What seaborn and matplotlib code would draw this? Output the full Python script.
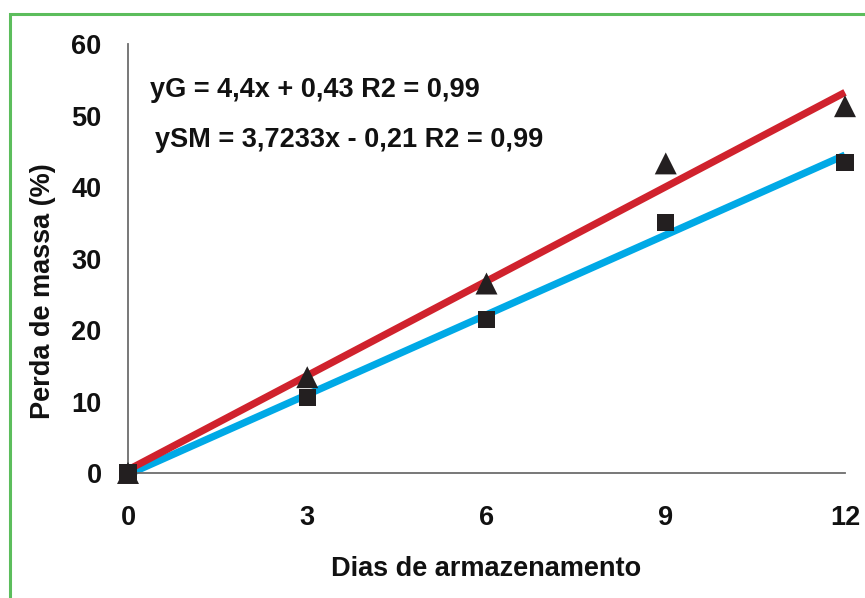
import matplotlib
matplotlib.use("Agg")
import matplotlib.pyplot as plt
from matplotlib.patches import Rectangle
import seaborn as sns
import pandas as pd
import numpy as np

sns.set_theme(style="white")
plt.rcParams["font.family"] = ["Liberation Sans", "DejaVu Sans"]
plt.rcParams["font.weight"] = "bold"

# Storage days and measured mass loss (%)
dias = [0, 3, 6, 9, 12]
perda_g = [0.0, 13.4, 26.5, 43.3, 51.3]
perda_sm = [0.0, 10.5, 21.5, 35.1, 43.4]

# Fitted linear regressions
coef_g = (4.4, 0.43)
coef_sm = (3.7233, -0.21)
eq_g = "yG = 4,4x + 0,43 R2 = 0,99"
eq_sm = "ySM = 3,7233x - 0,21 R2 = 0,99"

x_ticks = [0, 3, 6, 9, 12]
y_ticks = [0, 10, 20, 30, 40, 50, 60]

FS = 19.5
INK = "#111111"

fig = plt.figure(figsize=(8.65, 5.98), dpi=100)
ax = fig.add_axes([128 / 865, 1 - 473 / 598, (845 - 128) / 865, (473 - 44) / 598])

x_fit = np.array([dias[0], dias[-1]], dtype=float)
fit = pd.DataFrame({
    "x": np.concatenate([x_fit, x_fit]),
    "y": np.concatenate([coef_sm[0] * x_fit + coef_sm[1], coef_g[0] * x_fit + coef_g[1]]),
    "serie": ["SM", "SM", "G", "G"],
})
sns.lineplot(data=fit, x="x", y="y", hue="serie", palette={"SM": "#00a9e6", "G": "#d0222d"},
             linewidth=5.2, legend=False, ax=ax, clip_on=False, solid_capstyle="butt")

pts = pd.DataFrame({"x": dias + dias, "y": perda_sm + perda_g,
                    "serie": ["SM"] * len(dias) + ["G"] * len(dias)})
sns.scatterplot(data=pts, x="x", y="y", style="serie", markers={"SM": "s", "G": "^"},
                size="serie", sizes={"SM": 150, "G": 250},
                color="#231f20", linewidth=0, legend=False, ax=ax, clip_on=False, zorder=5)

ax.set_xlim(0, 12)
ax.set_ylim(0, 60)
ax.set_xticks(x_ticks)
ax.set_yticks(y_ticks)
ax.set_xticklabels([str(v) for v in x_ticks], fontsize=FS, fontweight="bold")
ax.set_yticklabels([str(v) for v in y_ticks], fontsize=FS, fontweight="bold")
for s in ["top", "right"]:
    ax.spines[s].set_visible(False)
for s in ["left", "bottom"]:
    ax.spines[s].set_color("#6d6d6d")
    ax.spines[s].set_linewidth(1.3)
ax.tick_params(axis="both", direction="out", length=7, width=1.3, color="#6d6d6d", labelcolor=INK)
ax.tick_params(axis="x", pad=16)
ax.tick_params(axis="y", pad=12)

ax.set_xlabel("Dias de armazenamento", fontsize=FS, fontweight="bold", labelpad=18, color=INK)
ax.set_ylabel("Perda de massa (%)", fontsize=FS, fontweight="bold", color=INK)
ax.yaxis.set_label_coords(-0.100, 0.424)

ax.text(0.031, 0.893, eq_g, transform=ax.transAxes, fontsize=FS, fontweight="bold",
        color=INK, va="center", ha="left")
ax.text(0.038, 0.776, eq_sm, transform=ax.transAxes, fontsize=FS, fontweight="bold",
        color=INK, va="center", ha="left")

# Green frame around the figure
fig.patches.append(Rectangle((10 / 865, -0.05), 1.2, 1 - 13.5 / 598 + 0.05, transform=fig.transFigure,
                             fill=False, edgecolor="#5cbd5c", linewidth=2.2))

fig.savefig("out.png", dpi=100)
